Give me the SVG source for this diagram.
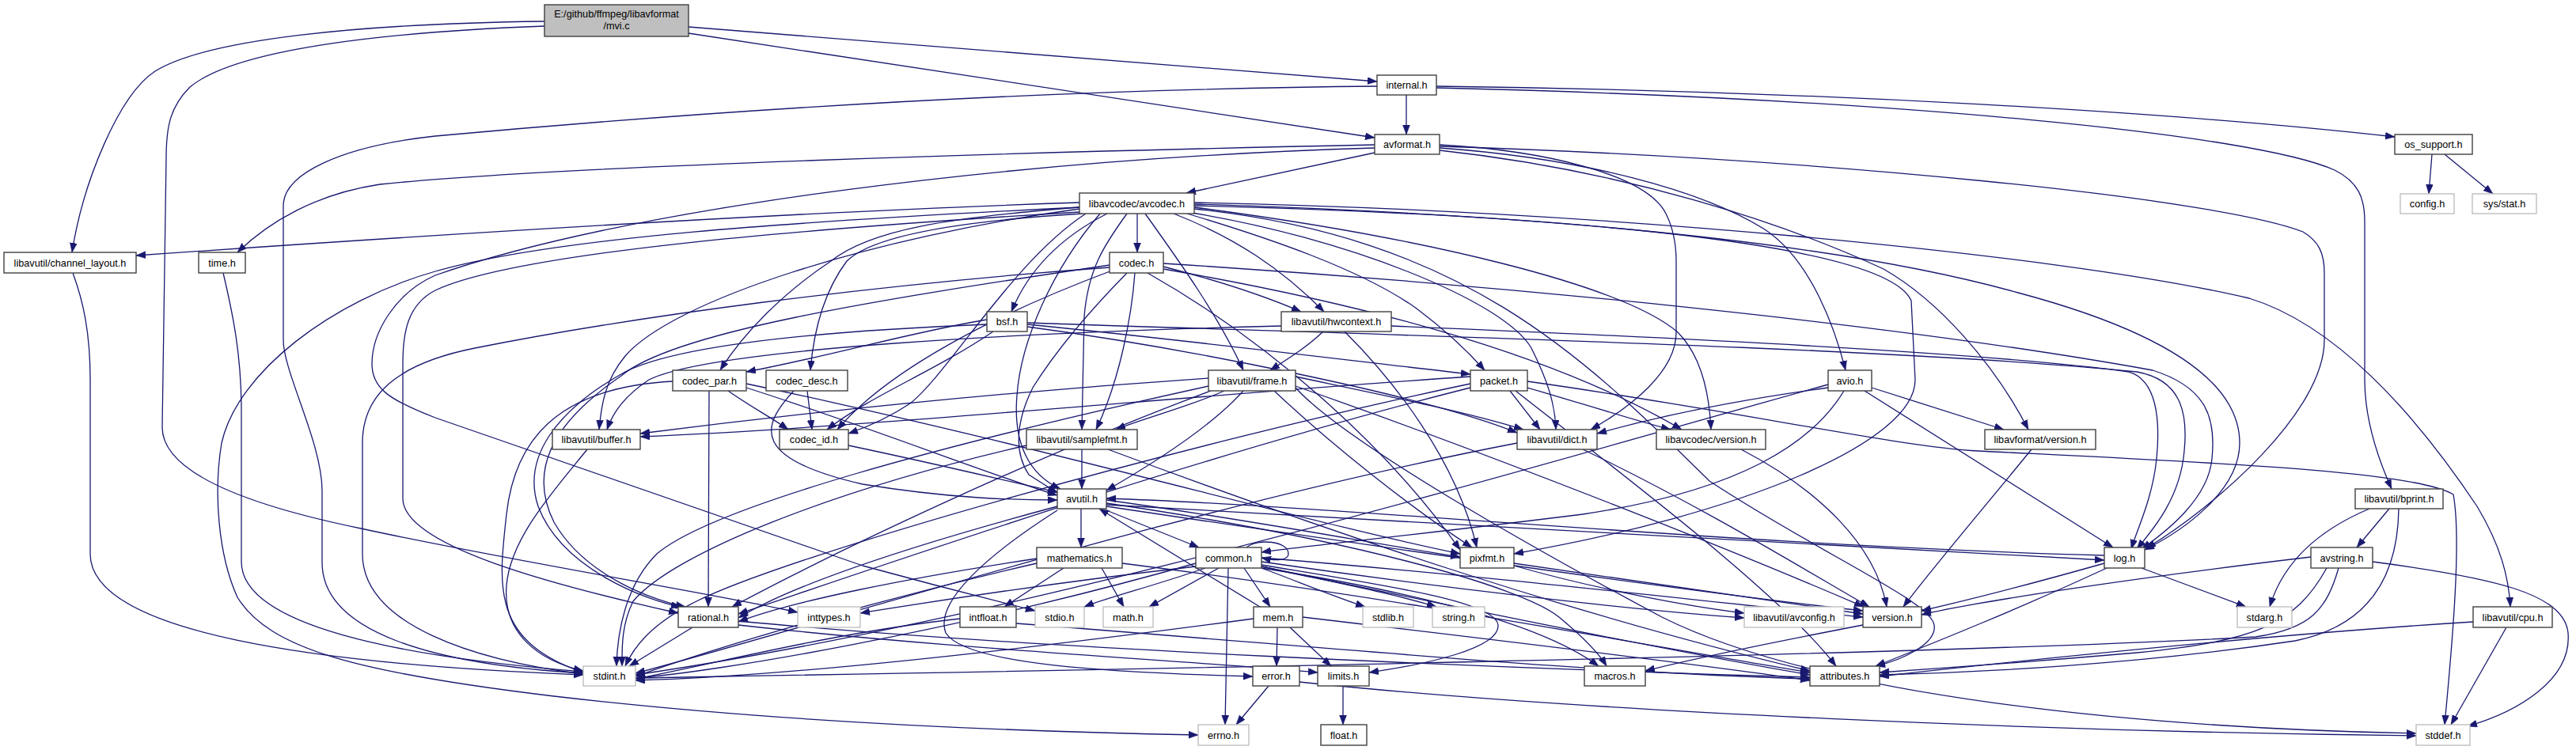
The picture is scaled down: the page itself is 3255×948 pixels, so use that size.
<svg xmlns="http://www.w3.org/2000/svg" width="3255" height="948" viewBox="0 0 3255 948">
<style>
.n rect{fill:#ffffff;stroke:#404040;stroke-width:1.4}
.g rect{fill:#ffffff;stroke:#bfbfbf;stroke-width:1.4}
.r rect{fill:#bfbfbf;stroke:#404040;stroke-width:1.4}
text{font-family:"Liberation Sans",Arial,sans-serif;font-size:12.7px;fill:#000;text-anchor:middle}
#edges path{fill:none;stroke:#191970;stroke-width:1.3;marker-end:url(#a)}
</style>
<defs>
<marker id="a" markerUnits="userSpaceOnUse" markerWidth="13" markerHeight="10" refX="12" refY="4.5" orient="auto">
<path d="M0,0 L12,4.5 L0,9 z" fill="#191970" stroke="#191970" stroke-width="0.5"/>
</marker>
</defs>
<rect width="3255" height="948" fill="#ffffff"/>
<g id="edges">
<path d="M688,27 C450,30 260,50 196,90 C150,120 105,230 91,319"/>
<path d="M688,33 C500,40 300,60 240,110 C215,135 210,160 210,200 L205,540 C205,600 320,640 456,668 C650,710 900,750 1008,774"/>
<path d="M870,34 L1740,103"/>
<path d="M870,42 L1737,174"/>
<path d="M1777,120 L1777,170"/>
<path d="M1815,109 C2300,115 2750,142 3026,173"/>
<path d="M1815,111 C2400,125 2850,170 2950,215 C2980,230 2988,250 2988,280 L2988,480 C2988,530 3005,580 3022,618"/>
<path d="M1740,109 C1300,113 900,140 550,172 C430,185 358,220 358,260 L358,430 C358,470 407,560 407,620 L407,711 C407,800 550,840 737,851"/>
<path d="M3073,195 L3069,245"/>
<path d="M3089,195 L3150,245"/>
<path d="M1737,193 L1499,244"/>
<path d="M1737,183 C1300,192 700,210 480,233 C400,245 340,280 300,319"/>
<path d="M1737,187 C1300,200 800,260 550,348 C500,370 470,420 470,460 C470,490 490,505 550,528 L1090,715 C1200,745 1260,760 1308,772"/>
<path d="M1819,183 C1950,190 2080,220 2105,270 C2115,290 2118,310 2118,330 L2118,420 C2118,470 2060,515 2010,543"/>
<path d="M1819,185 C2300,200 2800,250 2910,293 C2930,305 2937,320 2937,345 L2937,430 C2937,520 2800,640 2712,693"/>
<path d="M1819,187 C2000,200 2150,240 2230,290 C2290,330 2320,420 2332,468"/>
<path d="M1819,190 C2050,215 2250,280 2380,340 C2450,380 2520,460 2563,543"/>
<path d="M1364,256 C1000,268 500,300 172,323"/>
<path d="M1364,262 C1000,280 700,300 550,343 C420,380 300,470 280,560 C270,620 275,700 300,755 C340,820 450,850 700,880 C1000,915 1300,925 1514,929"/>
<path d="M1364,264 C1100,300 850,380 790,450 C765,480 760,510 757,543"/>
<path d="M1364,262 C1200,275 1100,290 1050,330 C990,370 940,420 910,468"/>
<path d="M1368,270 C1200,280 1100,300 1070,330 C1040,370 1028,420 1024,468"/>
<path d="M1372,270 C1280,330 1200,470 1150,510 C1120,530 1095,540 1072,548"/>
<path d="M1390,270 C1330,340 1290,430 1285,500 C1280,560 1300,600 1340,618"/>
<path d="M1424,270 C1395,310 1375,340 1370,400 L1367,543"/>
<path d="M1437,270 L1437,319"/>
<path d="M1399,270 C1340,300 1300,340 1278,394"/>
<path d="M1447,270 C1490,330 1540,400 1571,468"/>
<path d="M1483,270 C1560,300 1620,340 1673,394"/>
<path d="M1500,270 C1600,300 1720,340 1790,390 C1830,420 1860,450 1876,468"/>
<path d="M1500,268 C1700,300 1900,380 1935,440 C1955,480 1965,510 1966,543"/>
<path d="M1509,262 C1800,300 2050,360 2120,420 C2150,450 2160,500 2162,543"/>
<path d="M1509,258 C1900,270 2300,300 2550,370 C2700,410 2830,470 2830,560 C2830,620 2760,670 2710,695"/>
<path d="M1509,256 C2000,265 2600,320 2842,377 C2950,410 3050,520 3130,640 C3160,690 3170,730 3172,767"/>
<path d="M1509,260 C1900,270 2380,300 2415,380 L2420,480 C2420,560 2200,650 1913,700"/>
<path d="M1509,264 C1850,300 2000,450 2160,608 C2300,700 2440,760 2444,790 C2448,815 2400,835 2370,842"/>
<path d="M1364,268 C1000,290 650,320 550,367 C515,385 509,420 509,460 L509,630 C509,690 700,740 857,775"/>
<path d="M92,345 C105,380 114,420 114,480 L114,700 C114,800 400,840 737,853"/>
<path d="M282,345 C295,400 305,450 305,520 L305,710 C305,790 500,830 737,849"/>
<path d="M1402,338 C1100,360 800,400 600,440 C500,460 458,500 458,560 L458,700 C458,790 600,835 737,852"/>
<path d="M1424,345 C1370,400 1330,450 1305,490 C1285,530 1280,570 1300,600 L1336,623"/>
<path d="M1470,337 C1540,355 1600,375 1644,394"/>
<path d="M1470,333 C1900,360 2400,410 2720,468 C2790,490 2800,530 2795,580 C2790,630 2740,670 2706,694"/>
<path d="M1450,345 C1600,430 1750,560 1845,695"/>
<path d="M1402,335 C1100,380 850,420 785,475 C690,540 670,600 700,660 C740,730 830,760 866,767"/>
<path d="M1434,345 C1430,400 1415,480 1385,543"/>
<path d="M1405,342 C1250,400 1120,470 1058,543"/>
<path d="M1470,340 C1700,380 1950,440 2125,543"/>
<path d="M1298,413 C1500,440 1800,500 1917,547"/>
<path d="M1298,408 C1800,425 2400,440 2700,470 C2755,480 2765,520 2760,570 C2755,630 2720,670 2700,694"/>
<path d="M1247,410 C1000,420 850,440 790,470 C700,520 660,580 680,640 C710,720 820,760 860,767"/>
<path d="M1255,419 C1180,470 1100,500 1045,543"/>
<path d="M1247,404 C1150,420 1050,450 943,470"/>
<path d="M1298,410 C1500,430 1700,455 1858,473"/>
<path d="M1619,412 C1300,420 900,440 820,480 C790,500 775,520 767,543"/>
<path d="M1672,419 C1650,440 1625,455 1605,468"/>
<path d="M1758,412 C2200,430 2550,450 2690,470 C2725,480 2730,530 2725,580 C2720,630 2700,670 2693,694"/>
<path d="M1699,419 C1760,480 1840,580 1866,692"/>
<path d="M850,482 C700,490 650,560 640,650 C630,740 620,810 737,850"/>
<path d="M943,490 C1100,540 1250,600 1336,626"/>
<path d="M896,494 L895,767"/>
<path d="M943,485 C1300,560 1650,660 1845,700"/>
<path d="M920,494 C950,515 975,528 996,543"/>
<path d="M1003,494 C960,540 950,580 1090,612 C1200,630 1280,632 1336,632"/>
<path d="M1020,494 L1026,543"/>
<path d="M1637,490 C1700,560 1950,700 2100,780 C2300,880 2700,920 3053,927"/>
<path d="M1527,488 C1200,560 900,640 830,700 C790,740 780,800 779,842"/>
<path d="M1571,494 C1530,540 1450,590 1398,620"/>
<path d="M1527,478 C1200,500 950,530 809,548"/>
<path d="M1637,476 C1750,500 1850,520 1925,543"/>
<path d="M1530,494 C1300,580 1050,700 925,767"/>
<path d="M1547,494 C1500,515 1440,530 1410,543"/>
<path d="M1610,494 C1680,560 1780,640 1860,692"/>
<path d="M1637,488 C1900,580 2200,700 2355,767"/>
<path d="M1930,482 C2200,520 2400,565 2500,570 C2800,585 3050,595 3100,625 C3110,680 3100,800 3089,916"/>
<path d="M1858,485 C1500,560 1000,700 880,760 C820,790 800,820 790,842"/>
<path d="M1915,494 C2050,600 2250,750 2320,842"/>
<path d="M1858,476 C1500,500 1100,540 809,552"/>
<path d="M1908,494 L1946,543"/>
<path d="M1858,490 C1500,580 1100,720 933,776"/>
<path d="M1930,490 C2000,510 2060,530 2111,543"/>
<path d="M2310,486 C1900,600 1300,780 803,853"/>
<path d="M2330,494 C2290,560 2200,620 2000,650 C1800,675 1650,690 1594,698"/>
<path d="M2310,490 C2200,505 2100,525 2018,548"/>
<path d="M2356,494 L2670,692"/>
<path d="M2365,490 L2532,543"/>
<path d="M742,568 C700,620 645,680 640,740 C635,800 680,835 737,848"/>
<path d="M1072,563 C1200,590 1280,610 1336,622"/>
<path d="M1297,563 C1050,620 850,700 800,760 C785,790 786,820 786,842"/>
<path d="M1367,568 L1367,618"/>
<path d="M1400,568 C1700,680 2000,780 2287,848"/>
<path d="M1917,560 C1500,640 1000,800 803,851"/>
<path d="M2000,568 C2150,640 2280,720 2362,767"/>
<path d="M2200,568 C2300,620 2370,690 2384,767"/>
<path d="M2567,568 C2500,650 2440,720 2405,767"/>
<path d="M1398,645 L1515,692"/>
<path d="M1336,645 C1250,700 1180,760 1195,800 C1220,840 1400,850 1583,855"/>
<path d="M1336,640 C1150,690 1000,740 933,781"/>
<path d="M1398,640 C1800,700 2150,750 2354,772"/>
<path d="M1398,636 C1700,680 1920,740 1970,780 C2000,805 2020,825 2030,842"/>
<path d="M1366,643 L1366,692"/>
<path d="M1398,638 C1800,660 2300,690 2659,708"/>
<path d="M1398,632 C1600,660 1750,690 1845,704"/>
<path d="M2994,643 C2930,670 2885,710 2868,767"/>
<path d="M3031,643 C3030,720 3000,790 2900,810 C2700,840 2500,850 2375,853"/>
<path d="M3019,643 L2978,692"/>
<path d="M1913,715 C2000,740 2120,765 2204,775"/>
<path d="M1913,712 C2100,740 2250,760 2354,776"/>
<path d="M2706,718 L2838,767"/>
<path d="M2659,702 C2200,690 1700,640 1398,630"/>
<path d="M2662,718 C2550,770 2450,810 2370,842"/>
<path d="M2659,712 C2560,740 2480,760 2428,772"/>
<path d="M1310,712 C1100,760 900,820 803,855"/>
<path d="M1392,718 L1420,767"/>
<path d="M1418,712 C1800,760 2100,820 2287,850"/>
<path d="M1310,706 C1150,730 1000,760 933,786"/>
<path d="M1344,718 L1269,767"/>
<path d="M1552,718 L1548,916"/>
<path d="M1511,716 C1300,740 1150,765 1087,775"/>
<path d="M1594,714 C1750,740 1890,760 1893,790 C1895,820 1800,840 1730,850"/>
<path d="M1540,718 L1452,767"/>
<path d="M1511,712 C1200,800 900,850 803,857"/>
<path d="M1523,718 C1460,740 1400,755 1370,767"/>
<path d="M1594,718 C1640,735 1680,752 1725,767"/>
<path d="M1594,716 C1680,735 1760,750 1815,767"/>
<path d="M1594,716 C1900,780 2150,830 2287,853"/>
<path d="M1594,718 C1800,750 1950,790 2020,842"/>
<path d="M1594,705 C1900,730 2150,760 2354,780"/>
<path d="M1594,710 C1800,740 2050,770 2204,781"/>
<path d="M1572,718 L1605,767"/>
<path d="M1575,692 C1590,680 1628,684 1628,700 C1628,709 1612,709 1594,705"/>
<path d="M2998,710 C3150,730 3240,750 3245,800 C3250,860 3180,900 3118,918"/>
<path d="M2955,718 C2940,770 2920,795 2850,805 C2400,830 1200,850 803,857"/>
<path d="M2940,718 C2900,790 2850,810 2700,825 C2550,838 2450,845 2375,850"/>
<path d="M2920,704 C2700,730 2500,760 2428,777"/>
<path d="M875,793 L795,842"/>
<path d="M933,790 C1200,820 1500,835 1665,850"/>
<path d="M933,785 C1300,820 1900,845 2287,856"/>
<path d="M1213,782 C1050,800 900,840 803,858"/>
<path d="M1284,788 C1700,820 2000,850 2287,858"/>
<path d="M1630,793 L1682,842"/>
<path d="M1584,782 C1300,820 1000,855 803,860"/>
<path d="M1646,780 C1900,810 2150,840 2287,860"/>
<path d="M1614,793 L1613,842"/>
<path d="M1592,767 L1389,643"/>
<path d="M1603,867 L1562,916"/>
<path d="M1642,862 C2000,900 2600,925 3053,930"/>
<path d="M1697,867 L1697,916"/>
<path d="M2354,790 C2250,810 2150,830 2079,848"/>
<path d="M3125,786 C2900,800 2600,830 2375,855"/>
<path d="M3167,793 L3097,916"/>
</g>
<g id="mvi" class="r"><rect x="688" y="6" width="182" height="40"/><text x="779" y="21.5">E:/github/ffmpeg/libavformat</text><text x="779" y="37">/mvi.c</text></g>
<g id="internal" class="n"><rect x="1740" y="95" width="75" height="25"/><text x="1777.5" y="112">internal.h</text></g>
<g id="avformat" class="n"><rect x="1737" y="170" width="82" height="25"/><text x="1778" y="187">avformat.h</text></g>
<g id="os_support" class="n"><rect x="3026" y="170" width="98" height="25"/><text x="3075" y="187">os_support.h</text></g>
<g id="config" class="g"><rect x="3033" y="245" width="68" height="25"/><text x="3067" y="262">config.h</text></g>
<g id="sysstat" class="g"><rect x="3124" y="245" width="81" height="25"/><text x="3164.5" y="262">sys/stat.h</text></g>
<g id="avcodec" class="n"><rect x="1364" y="244" width="145" height="26"/><text x="1436.5" y="261.5">libavcodec/avcodec.h</text></g>
<g id="chlayout" class="n"><rect x="5" y="319" width="167" height="26"/><text x="88.5" y="336.5">libavutil/channel_layout.h</text></g>
<g id="time" class="n"><rect x="251" y="319" width="59" height="26"/><text x="280.5" y="336.5">time.h</text></g>
<g id="codec" class="n"><rect x="1402" y="319" width="68" height="26"/><text x="1436" y="336.5">codec.h</text></g>
<g id="bsf" class="n"><rect x="1247" y="394" width="51" height="25"/><text x="1272.5" y="411">bsf.h</text></g>
<g id="hwcontext" class="n"><rect x="1619" y="394" width="139" height="25"/><text x="1688.5" y="411">libavutil/hwcontext.h</text></g>
<g id="codec_par" class="n"><rect x="850" y="468" width="93" height="26"/><text x="896.5" y="485.5">codec_par.h</text></g>
<g id="codec_desc" class="n"><rect x="968" y="468" width="103" height="26"/><text x="1019.5" y="485.5">codec_desc.h</text></g>
<g id="frame" class="n"><rect x="1527" y="468" width="110" height="26"/><text x="1582" y="485.5">libavutil/frame.h</text></g>
<g id="packet" class="n"><rect x="1858" y="468" width="72" height="26"/><text x="1894" y="485.5">packet.h</text></g>
<g id="avio" class="n"><rect x="2310" y="468" width="55" height="26"/><text x="2337.5" y="485.5">avio.h</text></g>
<g id="buffer" class="n"><rect x="698" y="543" width="111" height="25"/><text x="753.5" y="560">libavutil/buffer.h</text></g>
<g id="codec_id" class="n"><rect x="985" y="543" width="87" height="25"/><text x="1028.5" y="560">codec_id.h</text></g>
<g id="samplefmt" class="n"><rect x="1297" y="543" width="140" height="25"/><text x="1367" y="560">libavutil/samplefmt.h</text></g>
<g id="dict" class="n"><rect x="1917" y="543" width="101" height="25"/><text x="1967.5" y="560">libavutil/dict.h</text></g>
<g id="lcversion" class="n"><rect x="2093" y="543" width="138" height="25"/><text x="2162" y="560">libavcodec/version.h</text></g>
<g id="lfversion" class="n"><rect x="2508" y="543" width="140" height="25"/><text x="2578" y="560">libavformat/version.h</text></g>
<g id="avutil" class="n"><rect x="1336" y="618" width="62" height="25"/><text x="1367" y="635">avutil.h</text></g>
<g id="bprint" class="n"><rect x="2976" y="618" width="111" height="25"/><text x="3031.5" y="635">libavutil/bprint.h</text></g>
<g id="pixfmt" class="n"><rect x="1845" y="692" width="68" height="26"/><text x="1879" y="709.5">pixfmt.h</text></g>
<g id="log" class="n"><rect x="2659" y="692" width="51" height="26"/><text x="2684.5" y="709.5">log.h</text></g>
<g id="mathematics" class="n"><rect x="1310" y="692" width="108" height="26"/><text x="1364" y="709.5">mathematics.h</text></g>
<g id="common" class="n"><rect x="1511" y="692" width="83" height="26"/><text x="1552.5" y="709.5">common.h</text></g>
<g id="avstring" class="n"><rect x="2920" y="692" width="78" height="26"/><text x="2959" y="709.5">avstring.h</text></g>
<g id="rational" class="n"><rect x="857" y="767" width="76" height="26"/><text x="895" y="784.5">rational.h</text></g>
<g id="inttypes" class="g"><rect x="1008" y="767" width="79" height="26"/><text x="1047.5" y="784.5">inttypes.h</text></g>
<g id="intfloat" class="n"><rect x="1213" y="767" width="71" height="26"/><text x="1248.5" y="784.5">intfloat.h</text></g>
<g id="stdio" class="g"><rect x="1308" y="767" width="62" height="26"/><text x="1339" y="784.5">stdio.h</text></g>
<g id="math" class="g"><rect x="1394" y="767" width="63" height="26"/><text x="1425.5" y="784.5">math.h</text></g>
<g id="mem" class="n"><rect x="1584" y="767" width="62" height="26"/><text x="1615" y="784.5">mem.h</text></g>
<g id="stdlib" class="g"><rect x="1722" y="767" width="64" height="26"/><text x="1754" y="784.5">stdlib.h</text></g>
<g id="string" class="g"><rect x="1810" y="767" width="66" height="26"/><text x="1843" y="784.5">string.h</text></g>
<g id="avconfig" class="g"><rect x="2204" y="767" width="126" height="26"/><text x="2267" y="784.5">libavutil/avconfig.h</text></g>
<g id="version" class="n"><rect x="2354" y="767" width="74" height="26"/><text x="2391" y="784.5">version.h</text></g>
<g id="stdarg" class="g"><rect x="2827" y="767" width="69" height="26"/><text x="2861.5" y="784.5">stdarg.h</text></g>
<g id="cpu" class="n"><rect x="3125" y="767" width="100" height="26"/><text x="3175" y="784.5">libavutil/cpu.h</text></g>
<g id="stdint" class="g"><rect x="737" y="842" width="66" height="25"/><text x="770" y="859">stdint.h</text></g>
<g id="error" class="n"><rect x="1583" y="842" width="59" height="25"/><text x="1612.5" y="859">error.h</text></g>
<g id="limits" class="n"><rect x="1665" y="842" width="65" height="25"/><text x="1697.5" y="859">limits.h</text></g>
<g id="macros" class="n"><rect x="2002" y="842" width="77" height="25"/><text x="2040.5" y="859">macros.h</text></g>
<g id="attributes" class="n"><rect x="2287" y="842" width="88" height="25"/><text x="2331" y="859">attributes.h</text></g>
<g id="errno" class="g"><rect x="1514" y="916" width="64" height="26"/><text x="1546" y="933.5">errno.h</text></g>
<g id="float" class="n"><rect x="1669" y="916" width="58" height="26"/><text x="1698" y="933.5">float.h</text></g>
<g id="stddef" class="g"><rect x="3053" y="916" width="68" height="26"/><text x="3087" y="933.5">stddef.h</text></g>
</svg>
